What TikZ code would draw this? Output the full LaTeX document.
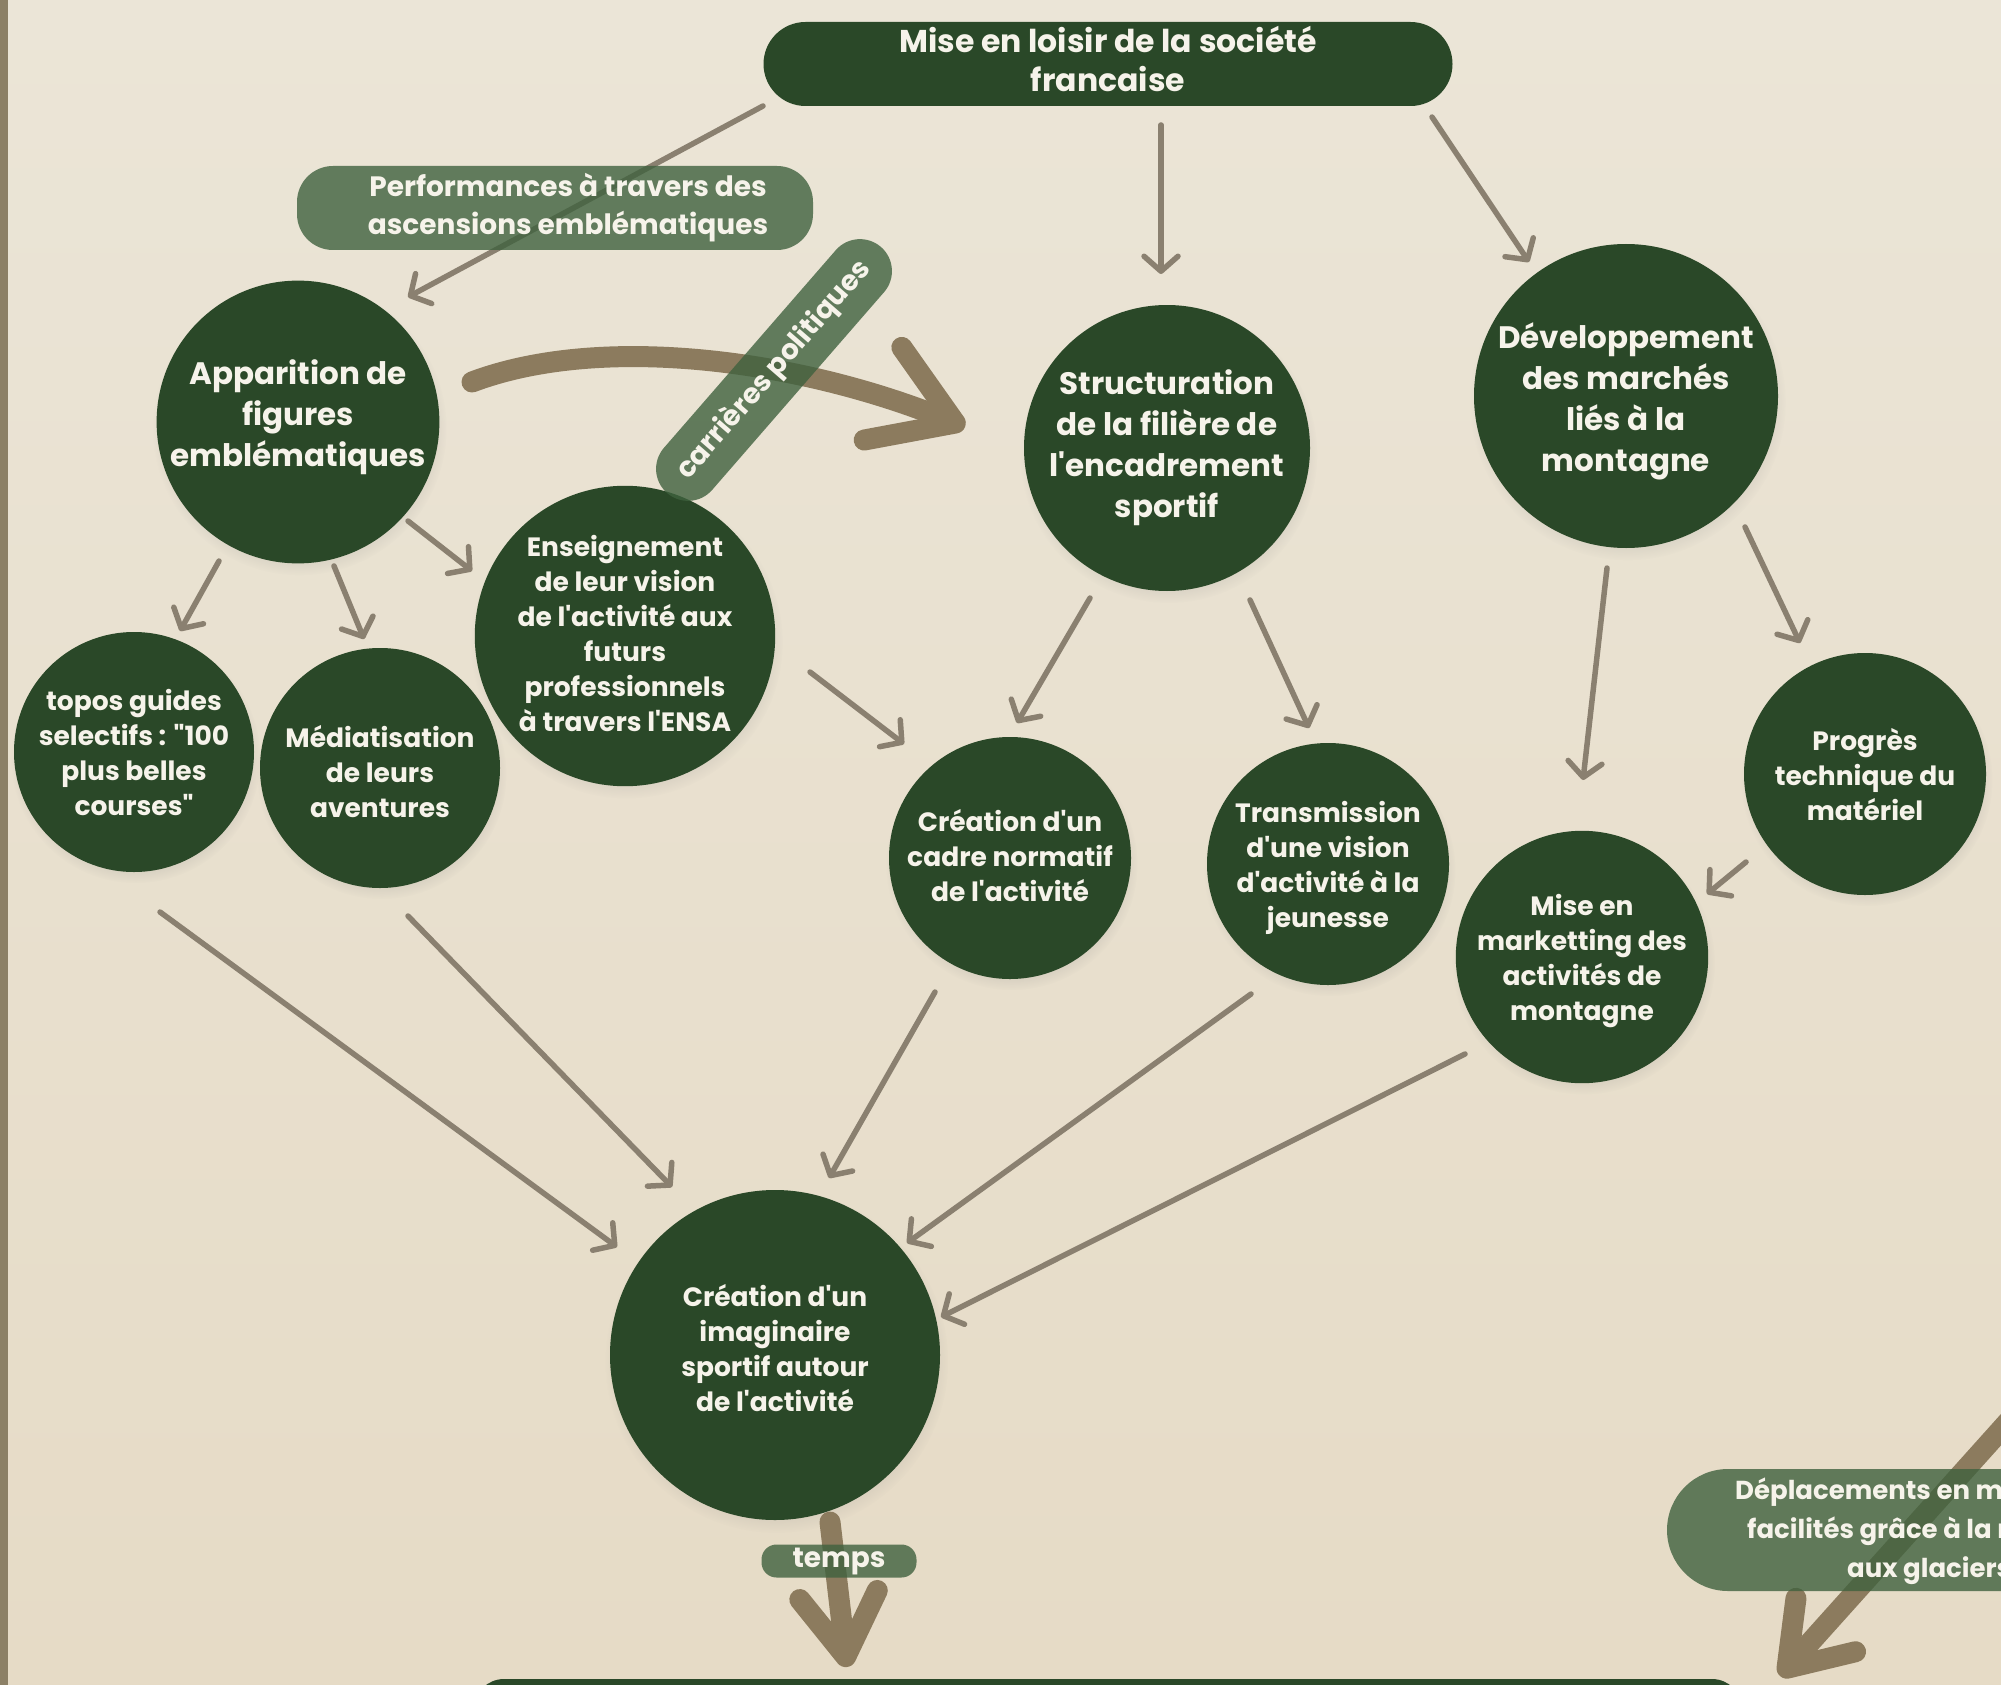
\documentclass[tikz,border=0pt]{standalone}
\usepackage{fontspec}
\setmainfont{Poppins}[Ligatures=TeXOff]
\usetikzlibrary{arrows.meta,calc,shadows}

\definecolor{bgtop}{RGB}{235,229,215}
\definecolor{bgbot}{RGB}{230,219,198}
\definecolor{dkgreen}{RGB}{42,72,40}
\definecolor{lbgreen}{RGB}{63,97,62}
\definecolor{txtw}{RGB}{246,243,234}
\definecolor{thinarr}{RGB}{138,128,112}
\definecolor{thickarr}{RGB}{140,123,94}
\definecolor{stripc}{RGB}{140,128,102}

\newcommand{\dgBig}{\fontsize{31}{41}\selectfont\bfseries}
\newcommand{\dgSmall}{\fontsize{26.5}{35}\selectfont\bfseries}
\newcommand{\dgTop}{\fontsize{31.5}{39}\selectfont\bfseries}
\newcommand{\dgLab}{\fontsize{28}{38}\selectfont\bfseries}
\newcommand{\dgDep}{\fontsize{26}{39}\selectfont\bfseries}
\newcommand{\dgTiny}{\fontsize{28}{36}\selectfont\bfseries}
% text block raised by #1 inside its node, the node keeping its size
\newcommand{\btx}[2]{\raisebox{#1}[\height][\depth]{\begin{tabular}{@{}c@{}}#2\end{tabular}}}

\begin{document}
\begin{tikzpicture}[x=1pt,y=-1pt,
  bubble/.style={circle, fill=dkgreen, text=txtw, inner sep=0pt, align=center,
    circular drop shadow={shadow yshift=-6pt, shadow scale=1.04, opacity=.22}},
  bigbubble/.style={bubble, font=\dgBig},
  smallbubble/.style={bubble, font=\dgSmall},
  topbox/.style={rectangle, rounded corners=42pt, fill=dkgreen, text=txtw, align=center, font=\dgTop, inner sep=0pt},
  lab/.style={rectangle, fill=lbgreen, fill opacity=.8, text opacity=1, text=txtw, align=center, inner sep=0pt},
  thinarrow/.style={draw=thinarr, line width=5.5pt, line cap=round, -{Straight Barb[length=15pt,width=34pt,round]}},
  thickarrow/.style={draw=thickarr, line width=21pt, line cap=round}
]
\useasboundingbox (0,0) rectangle (2001,1685);
\shade[top color=bgtop, bottom color=bgbot] (0,0) rectangle (2001,1685);
\fill[stripc] (0,0) rectangle (8,1685);

\begin{scope}
\clip (0,0) rectangle (2001,1685);

% nodes
\node[topbox, minimum width=689pt, minimum height=84pt] (mise) at (1108,64) {\btx{0pt}{Mise en loisir de la société\\francaise}};
\node[bigbubble, minimum size=280pt] (app) at (298,422) {\btx{5pt}{Apparition de\\figures\\emblématiques}};
\node[bigbubble, minimum size=280pt] (struc) at (1167,448) {\btx{0pt}{Structuration\\de la filière de\\l'encadrement\\sportif}};
\node[bigbubble, minimum size=304pt] (dev) at (1626,396) {\btx{-6pt}{Développement\\des marchés\\liés à la\\montagne}};
\node[smallbubble, minimum size=294pt] (ens) at (625,636) {\btx{-1pt}{Enseignement\\de leur vision\\de l'activité aux\\futurs\\professionnels\\à travers l'ENSA}};
\node[smallbubble, minimum size=240pt] (topos) at (134,752) {\btx{-4pt}{topos guides\\selectifs : "100\\plus belles\\courses"}};
\node[smallbubble, minimum size=240pt] (media) at (380,768) {\btx{-7pt}{Médiatisation\\de leurs\\aventures}};
\node[smallbubble, minimum size=242pt] (cadre) at (1010,858) {\btx{-1pt}{Création d'un\\cadre normatif\\de l'activité}};
\node[smallbubble, minimum size=242pt] (trans) at (1328,864) {\btx{-4pt}{Transmission\\d'une vision\\d'activité à la\\jeunesse}};
\node[smallbubble, minimum size=242pt] (mkt) at (1582,957) {\btx{-4pt}{Mise en\\marketting des\\activités de\\montagne}};
\node[smallbubble, minimum size=242pt] (prog) at (1865,774) {\btx{-4pt}{Progrès\\technique du\\matériel}};
\node[smallbubble, minimum size=330pt] (imag) at (775,1355) {\btx{3pt}{Création d'un\\imaginaire\\sportif autour\\de l'activité}};
\node[rectangle, rounded corners=30pt, fill=dkgreen, minimum width=1268pt, minimum height=82pt, inner sep=0pt] (bot) at (1108,1720) {};

% thin arrows
\draw[thinarrow] ($(mise)+(-345,42)$) -- ($(app)+(110,-125)$);
\draw[thinarrow] ($(mise)+(53,61)$) -- ($(struc)+(-6,-174)$);
\draw[thinarrow] ($(mise)+(324,53)$) -- ($(dev)+(-97,-134)$);
\draw[thinarrow] ($(app)+(-79,139)$) -- ($(topos)+(46,-121)$);
\draw[thinarrow] ($(app)+(36,144)$) -- ($(media)+(-16,-129)$);
\draw[thinarrow] ($(app)+(110,99)$) -- ($(ens)+(-153,-65)$);
\draw[thinarrow] ($(ens)+(185,36)$) -- ($(cadre)+(-106,-114)$);
\draw[thinarrow] ($(struc)+(-77,150)$) -- ($(cadre)+(7,-135)$);
\draw[thinarrow] ($(struc)+(83,152)$) -- ($(trans)+(-19,-136)$);
\draw[thinarrow] ($(dev)+(-19,172)$) -- ($(mkt)+(1,-177)$);
\draw[thinarrow] ($(dev)+(119,131)$) -- ($(prog)+(-65,-131)$);
\draw[thinarrow] ($(prog)+(-119,88)$) -- ($(mkt)+(125,-63)$);
\draw[thinarrow] ($(topos)+(26,160)$) -- ($(imag)+(-158,-108)$);
\draw[thinarrow] ($(media)+(28,148)$) -- ($(imag)+(-103,-168)$);
\draw[thinarrow] ($(cadre)+(-75,134)$) -- ($(imag)+(54,-177)$);
\draw[thinarrow] ($(trans)+(-77,130)$) -- ($(imag)+(132,-112)$);
\draw[thinarrow] ($(mkt)+(-117,97)$) -- ($(imag)+(166,-38)$);

% thick arrows
\draw[thickarrow, -{Straight Barb[length=78pt,width=100pt,round]}]
  ($(app)+(174,-40)$) .. controls +(130,-49) and +(-165,-67) .. ($(struc)+(-202,-21)$);
\draw[thickarrow, -{Straight Barb[length=62pt,width=78pt,round]}]
  ($(imag)+(55,167)$) -- ($(bot)+(-261,-53)$);
\coordinate (rs) at (2050,1375);
\coordinate (rt) at (1780,1676);
\draw[thickarrow, -{Straight Barb[length=58pt,width=80pt,round]}] (rs) -- (rt);

% labels on top of arrows
\node[lab, rounded corners=36pt, minimum width=516pt, minimum height=84pt, font=\dgLab] (perf) at (555,208)
  {\hspace*{26pt}Performances à travers des\\\hspace*{26pt}ascensions emblématiques};
\node[lab, rounded corners=32pt, minimum width=326pt, minimum height=64pt, rotate=49, font=\dgTiny] (carr) at (774,370) {carrières politiques};
\node[lab, rounded corners=15pt, minimum width=155pt, minimum height=33pt, font=\dgTiny] (temps) at (839,1561) {temps};
\node[lab, rounded corners=61pt, minimum width=440pt, minimum height=122pt] (depl) at (1887,1530) {};
\node[anchor=west, text=txtw, align=left, inner sep=0pt, font=\dgDep] (deplt) at (1735,1531)
  {Déplacements en m\\\hspace*{12pt}facilités grâce à la r\\\hspace*{112pt}aux glaciers};
\end{scope}
\end{tikzpicture}
\end{document}
